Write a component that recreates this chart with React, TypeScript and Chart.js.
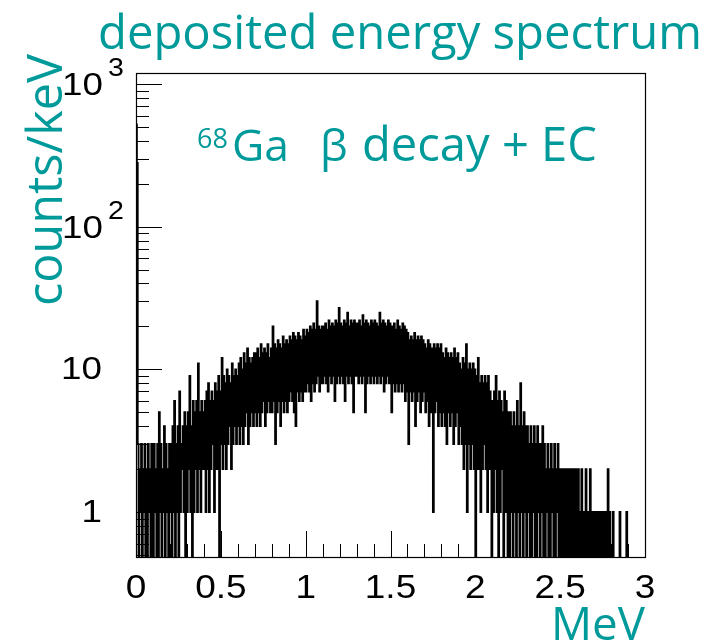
import React, { useEffect, useRef } from 'react';
import { Chart, registerables } from 'chart.js';

Chart.register(...registerables);

// ---- data: counts per keV in 5 keV bins (energy in MeV) ----
const binWidthMeV = 0.005;
const counts000 = [520, 280, 3, 0, 2, 1, 3, 0, 2, 1, 3, 0, 2, 0, 3, 1, 2, 0, 3, 1];
const counts010 = [0, 3, 1, 2, 0, 3, 0, 5, 1, 3, 0, 2, 1, 4, 0, 3, 1, 2, 0, 3];
const counts020 = [1, 3, 0, 4, 1, 6, 0, 3, 1, 4, 0, 7, 1, 3, 2, 4, 1, 5, 0, 4];
const counts030 = [1, 5, 2, 9, 1, 4, 0, 6, 1, 5, 2, 6, 1, 11, 2, 5, 1, 6, 2, 5];
const counts040 = [2, 6, 1, 7, 2, 8, 1, 6, 2, 7, 3, 6, 1, 8, 2, 7, 2, 9, 0, 7];
const counts050 = [3, 12, 2, 9, 3, 8, 2, 10, 3, 9, 4, 8, 2, 11, 3, 9, 4, 10, 3, 9];
const counts060 = [4, 11, 3, 12, 4, 10, 3, 13, 4, 11, 5, 14, 3, 12, 4, 11, 5, 12, 4, 13];
const counts070 = [5, 13, 4, 14, 5, 12, 4, 15, 5, 13, 6, 14, 4, 13, 5, 15, 6, 12, 5, 14];
const counts080 = [5, 20, 6, 15, 3, 14, 5, 16, 6, 15, 4, 14, 6, 17, 5, 15, 6, 16, 5, 15];
const counts090 = [6, 17, 7, 16, 6, 18, 5, 17, 4, 16, 7, 18, 6, 17, 7, 16, 6, 19, 7, 17];
const counts100 = [7, 19, 8, 18, 7, 20, 6, 19, 8, 21, 7, 19, 8, 30, 9, 20, 7, 19, 8, 20];
const counts110 = [8, 20, 9, 21, 8, 19, 7, 22, 9, 20, 8, 21, 9, 20, 6, 22, 8, 21, 9, 27];
const counts120 = [8, 21, 9, 20, 8, 22, 6, 21, 9, 25, 8, 20, 9, 22, 8, 21, 5, 22, 9, 21];
const counts130 = [9, 21, 8, 22, 9, 20, 8, 24, 9, 21, 5, 22, 8, 21, 9, 20, 8, 22, 9, 21];
const counts140 = [8, 22, 9, 21, 8, 20, 9, 25, 8, 21, 9, 22, 7, 21, 8, 20, 9, 22, 8, 21];
const counts150 = [8, 5, 20, 8, 21, 7, 19, 8, 22, 7, 20, 8, 19, 7, 21, 8, 20, 6, 19, 7];
const counts160 = [18, 3, 16, 7, 17, 6, 16, 7, 18, 4, 16, 6, 17, 7, 16, 5, 17, 6, 16, 7];
const counts170 = [15, 5, 14, 6, 16, 4, 15, 5, 14, 6, 1, 15, 5, 14, 6, 15, 4, 14, 5, 15];
const counts180 = [4, 13, 5, 12, 4, 14, 3, 13, 5, 12, 4, 13, 5, 12, 3, 14, 4, 12, 5, 13];
const counts190 = [3, 11, 4, 10, 3, 12, 2, 11, 3, 15, 1, 10, 3, 11, 2, 10, 3, 11, 2, 10];
const counts200 = [0, 9, 2, 12, 2, 8, 1, 9, 2, 8, 3, 9, 2, 8, 1, 9, 2, 7, 2, 0];
const counts210 = [6, 1, 7, 2, 9, 1, 6, 0, 7, 1, 6, 2, 5, 0, 7, 1, 6, 1, 0, 5];
const counts220 = [0, 5, 1, 4, 0, 5, 1, 4, 0, 6, 1, 4, 0, 8, 1, 4, 0, 5, 1, 4];
const counts230 = [0, 4, 1, 3, 0, 4, 0, 3, 1, 4, 0, 3, 0, 4, 1, 3, 0, 3, 1, 4];
const counts240 = [0, 3, 0, 2, 1, 3, 0, 2, 0, 3, 1, 2, 0, 3, 0, 2, 1, 3, 0, 2];
const counts250 = [0, 2, 0, 2, 1, 0, 2, 0, 1, 2, 0, 2, 0, 1, 2, 0, 2, 1, 0, 2];
const counts260 = [0, 2, 0, 1, 0, 2, 1, 0, 1, 0, 2, 0, 1, 0, 1, 2, 0, 1, 0, 1];
const counts270 = [0, 1, 0, 1, 0, 1, 0, 1, 0, 1, 0, 1, 0, 1, 0, 1, 2, 0, 1, 0];
const counts280 = [0, 0, 1, 0, 0, 0, 0, 0, 0, 0, 1, 0, 0, 0, 0, 0, 0, 0, 1, 0];
const counts290 = [0, 0, 0, 0, 0, 0, 0, 0, 0, 0, 0, 0, 0, 0, 0, 0, 0, 0, 0, 0];

const countsPerKeV = [
  ...counts000, ...counts010, ...counts020, ...counts030, ...counts040,
  ...counts050, ...counts060, ...counts070, ...counts080, ...counts090,
  ...counts100, ...counts110, ...counts120, ...counts130, ...counts140,
  ...counts150, ...counts160, ...counts170, ...counts180, ...counts190,
  ...counts200, ...counts210, ...counts220, ...counts230, ...counts240,
  ...counts250, ...counts260, ...counts270, ...counts280, ...counts290,
];

const xMin = 0;
const xMax = 3;
const yMin = 0.484;
const yMax = 1195;
const xMajorTicks = [0, 0.5, 1, 1.5, 2, 2.5, 3];
const xTickLabels = ['0', '0.5', '1', '1.5', '2', '2.5', '3'];
const yMajorTicks = [1, 10, 100, 1000];
const yTickBases = ['1', '10', '10', '10'];
const yTickExponents = ['', '', '2', '3'];

const titleText = 'deposited energy spectrum';
const yTitleText = 'counts/keV';
const xTitleText = 'MeV';

const TEAL = '#009a9a';
const TEAL_FONT = '"Comic Sans MS", "Open Sans", "Noto Sans", sans-serif';
const AXIS_FONT = '"Liberation Sans", Arial, sans-serif';

function fitFont(ctx: CanvasRenderingContext2D, text: string, width: number, family: string, weight = '400') {
  ctx.font = `${weight} 100px ${family}`;
  const w = ctx.measureText(text).width;
  const size = (100 * width) / w;
  return `${weight} ${size.toFixed(2)}px ${family}`;
}

function wideText(ctx: CanvasRenderingContext2D, text: string, x: number, y: number, sx: number) {
  ctx.save();
  ctx.translate(x, y);
  ctx.scale(sx, 1);
  ctx.fillText(text, 0, 0);
  ctx.restore();
}

const decorPlugin = {
  id: 'rootDecor',
  afterDraw(chart: any) {
    const ctx: CanvasRenderingContext2D = chart.ctx;
    const xs = chart.scales.x;
    const ys = chart.scales.y;
    const { left, right, top, bottom } = chart.chartArea;
    ctx.save();
    // frame
    ctx.strokeStyle = '#000';
    ctx.lineWidth = 1.2;
    ctx.strokeRect(Math.round(left) + 0.5, Math.round(top) + 0.5, Math.round(right - left), Math.round(bottom - top));

    // x ticks (inward)
    ctx.lineWidth = 1;
    ctx.beginPath();
    for (let i = 0; i <= 30; i++) {
      const v = i * 0.1;
      const px = Math.round(xs.getPixelForValue(v)) + 0.5;
      const major = i % 5 === 0;
      const len = major ? 26 : 13;
      ctx.moveTo(px, bottom);
      ctx.lineTo(px, bottom - len);
    }
    // y ticks (inward)
    for (const d of [0.1, 1, 10, 100, 1000]) {
      for (let m = 1; m <= 9; m++) {
        const v = m * d;
        if (v < yMin || v > yMax) continue;
        const py = Math.round(ys.getPixelForValue(v)) + 0.5;
        const len = m === 1 ? 26 : 13;
        ctx.moveTo(left, py);
        ctx.lineTo(left + len, py);
      }
    }
    ctx.stroke();

    // x tick labels
    ctx.fillStyle = '#000';
    ctx.font = `400 33px ${AXIS_FONT}`;
    ctx.textAlign = 'center';
    ctx.textBaseline = 'alphabetic';
    xMajorTicks.forEach((v, i) => {
      wideText(ctx, xTickLabels[i], xs.getPixelForValue(v), 598, 1.12);
    });

    // y tick labels
    yMajorTicks.forEach((v, i) => {
      const py = ys.getPixelForValue(v);
      const base = yTickBases[i];
      const exp = yTickExponents[i];
      ctx.font = `400 32px ${AXIS_FONT}`;
      ctx.textBaseline = 'middle';
      ctx.textAlign = 'right';
      if (exp) {
        wideText(ctx, base, 103, py + 2, 1.15);
        ctx.font = `400 26px ${AXIS_FONT}`;
        ctx.textAlign = 'left';
        wideText(ctx, exp, 108, py - 15, 1.1);
      } else {
        wideText(ctx, base, 102, py + 1, 1.15);
      }
    });

    // teal texts
    ctx.fillStyle = TEAL;
    ctx.textBaseline = 'alphabetic';
    ctx.textAlign = 'left';
    ctx.font = fitFont(ctx, titleText, 604, TEAL_FONT);
    ctx.fillText(titleText, 98, 49);

    ctx.save();
    ctx.translate(62, 306);
    ctx.rotate(-Math.PI / 2);
    ctx.font = fitFont(ctx, yTitleText, 252, TEAL_FONT);
    ctx.fillText(yTitleText, 0, 0);
    ctx.restore();

    ctx.textAlign = 'right';
    ctx.font = fitFont(ctx, xTitleText, 94, TEAL_FONT);
    ctx.fillText(xTitleText, 645, 640);

    // annotation: 68Ga  beta decay + EC
    ctx.textAlign = 'left';
    ctx.font = `400 27px ${TEAL_FONT}`;
    ctx.fillText('68', 197, 148);
    ctx.font = fitFont(ctx, 'Ga', 57, TEAL_FONT);
    ctx.fillText('Ga', 232, 161);
    ctx.font = `400 44px ${TEAL_FONT}`;
    ctx.fillText('β', 320, 161);
    ctx.font = fitFont(ctx, 'decay + EC', 235, TEAL_FONT);
    ctx.fillText('decay + EC', 362, 161);
    ctx.restore();
  },
};

export default function App() {
  const canvasRef = useRef<HTMLCanvasElement | null>(null);

  useEffect(() => {
    const canvas = canvasRef.current;
    if (!canvas) return;
    const zeroFloor = 0.3;
    const points = countsPerKeV.map((c, i) => ({ x: i * binWidthMeV, y: c > 0 ? c : zeroFloor }));
    points.push({ x: xMax, y: zeroFloor });

    const chart = new Chart(canvas, {
      type: 'line',
      data: {
        datasets: [
          {
            data: points,
            stepped: true,
            borderColor: '#000',
            borderWidth: 1.9,
            pointRadius: 0,
            fill: false,
            tension: 0,
          },
        ],
      },
      options: {
        animation: false,
        responsive: false,
        maintainAspectRatio: false,
        events: [],
        layout: { padding: { left: 136, top: 73, right: 65, bottom: 86 } },
        plugins: {
          legend: { display: false },
          tooltip: { enabled: false },
          title: { display: false },
        },
        scales: {
          x: {
            type: 'linear',
            min: xMin,
            max: xMax,
            grid: { display: false },
            border: { display: false },
            ticks: { display: false },
            afterFit: (s: any) => {
              s.height = 0;
            },
          },
          y: {
            type: 'logarithmic',
            min: yMin,
            max: yMax,
            grid: { display: false },
            border: { display: false },
            ticks: { display: false },
            afterFit: (s: any) => {
              s.width = 0;
            },
          },
        },
      },
      plugins: [decorPlugin],
    } as any);

    return () => chart.destroy();
  }, []);

  return (
    <div style={{ position: 'fixed', left: 0, top: 0, width: 710, height: 643, background: '#fff' }}>
      <canvas ref={canvasRef} width={710} height={643} style={{ display: 'block', width: 710, height: 643 }} />
    </div>
  );
}
